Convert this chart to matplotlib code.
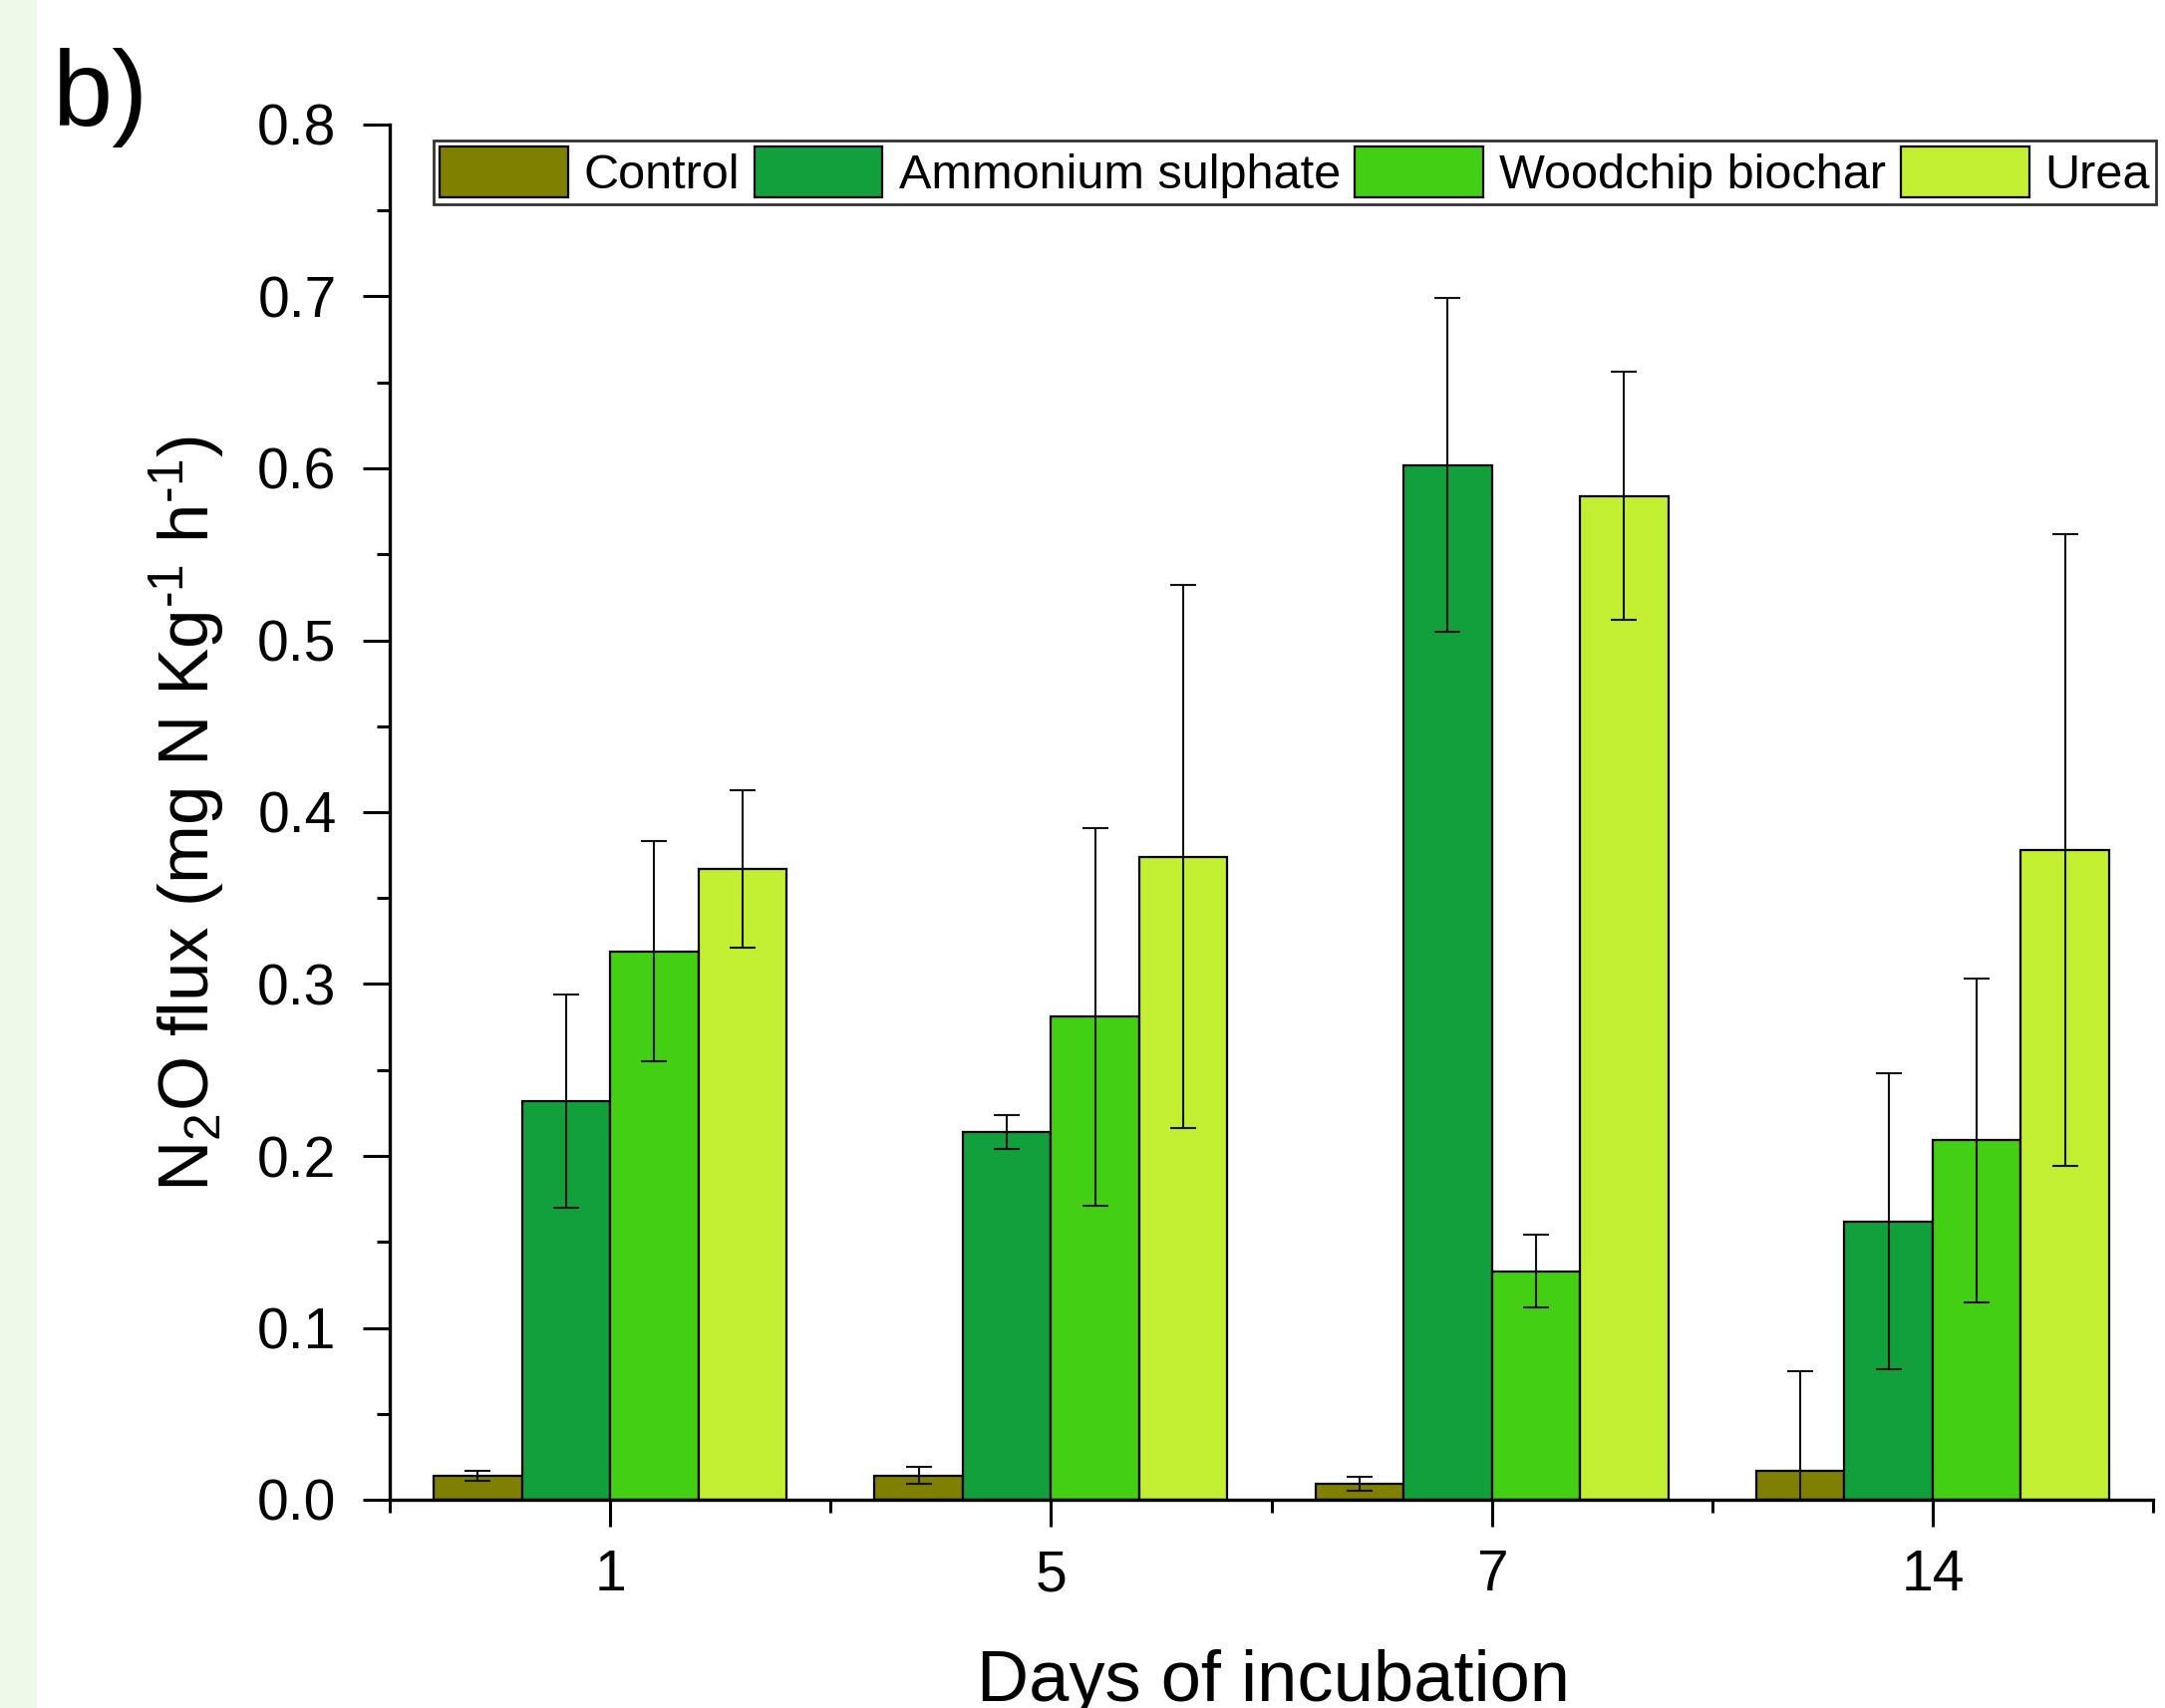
import matplotlib
matplotlib.use('Agg')
import matplotlib.pyplot as plt
import numpy as np

plt.rcParams['font.family'] = ['Liberation Sans', 'DejaVu Sans']
plt.rcParams['mathtext.fontset'] = 'custom'
plt.rcParams['mathtext.rm'] = 'Liberation Sans'
plt.rcParams['mathtext.it'] = 'Liberation Sans'

days = ['1', '5', '7', '14']
treatments = ['Control', 'Ammonium sulphate', 'Woodchip biochar', 'Urea']
colors = ['#7f7f00', '#11a03b', '#43cf13', '#c2ef31']

control = [0.014, 0.014, 0.0095, 0.017]
control_err = [0.003, 0.005, 0.004, 0.058]
ammonium = [0.232, 0.214, 0.602, 0.162]
ammonium_err = [0.062, 0.010, 0.097, 0.086]
woodchip = [0.319, 0.281, 0.133, 0.209]
woodchip_err = [0.064, 0.110, 0.021, 0.094]
urea = [0.367, 0.374, 0.584, 0.378]
urea_err = [0.046, 0.158, 0.072, 0.184]

means = [control, ammonium, woodchip, urea]
errs = [control_err, ammonium_err, woodchip_err, urea_err]

W, H = 2172, 1714
fig = plt.figure(figsize=(W / 100, H / 100), dpi=100)

# light green strip on the left edge
fig.patches.append(plt.Rectangle((0, 0), 37 / W, 1, transform=fig.transFigure,
                                 facecolor='#eef9ea', edgecolor='none', zorder=0))

ax = fig.add_axes([391 / W, 1 - 1505 / H, (2160 - 391) / W, (1505 - 125) / H])

x = np.arange(len(days))
width = 0.2
for i, (name, m, e, c) in enumerate(zip(treatments, means, errs, colors)):
    ax.bar(x + (i - 1.5) * width, m, width, color=c, edgecolor='black',
           linewidth=1.6, label=name, zorder=2)
    ax.errorbar(x + (i - 1.5) * width, m, yerr=e, fmt='none', ecolor='#111111',
                elinewidth=1.5, capsize=9.5, capthick=1.5, zorder=3)

ax.set_xlim(-0.5, 3.5)
ax.set_ylim(0, 0.8)
ax.set_xticks(x)
ax.set_xticklabels(days)
ax.set_xticks(np.arange(-0.5, 4.0, 1.0), minor=True)
ax.set_yticks(np.arange(0, 0.81, 0.1))
ax.set_yticklabels(['%.1f' % v for v in np.arange(0, 0.81, 0.1)])
ax.set_yticks(np.arange(0.05, 0.8, 0.1), minor=True)

for side in ['top', 'right']:
    ax.spines[side].set_visible(False)
for side in ['left', 'bottom']:
    ax.spines[side].set_linewidth(2.4)

ax.tick_params(axis='both', which='major', direction='out', length=19.5, width=2.2,
               labelsize=41, color='black')
ax.tick_params(axis='both', which='minor', direction='out', length=9.5, width=2.2)
ax.tick_params(axis='y', which='major', pad=19)
ax.tick_params(axis='x', which='major', pad=16)

fig.text(228 / W, 1 - 817 / H, r'N$_2$O flux (mg N Kg$^{\text{-}1}$ h$^{\text{-}1}$)',
         rotation=90, ha='right', va='center', fontsize=51)
fig.text(1277 / W, 1 - 1707 / H, 'Days of incubation', ha='center',
         va='baseline', fontsize=52)
fig.text(52 / W, 1 - 126 / H, 'b)', ha='left', va='baseline', fontsize=78)

leg = fig.legend(loc='upper right', bbox_to_anchor=(2163 / W, 1 - 141 / H),
                 ncol=4, fontsize=35, frameon=True, fancybox=False,
                 edgecolor='black', handlelength=2.65, handleheight=1.25,
                 handletextpad=0.33, columnspacing=0.3, borderpad=0.12,
                 borderaxespad=0)
leg.get_frame().set_linewidth(2)

fig.savefig('out.png', dpi=100)
